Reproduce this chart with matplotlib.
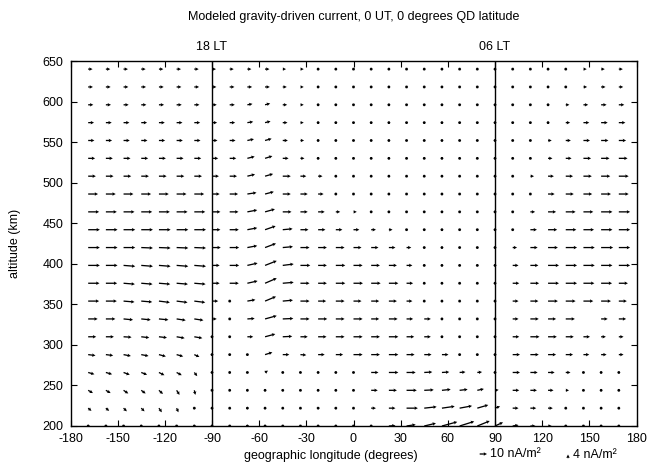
import numpy as np
import matplotlib
matplotlib.use('Agg')
import matplotlib.pyplot as plt

plt.rcParams['font.family'] = ['Liberation Sans', 'DejaVu Sans']
plt.rcParams['axes.unicode_minus'] = False

N = np.nan
# grid: geographic longitude (deg) and altitude (km)
longitudes = [-168.75, -157.5, -146.25, -135.0, -123.75, -112.5, -101.25, -90.0,
              -78.75, -67.5, -56.25, -45.0, -33.75, -22.5, -11.25, 0.0,
              11.25, 22.5, 33.75, 45.0, 56.25, 67.5, 78.75, 90.0,
              101.25, 112.5, 123.75, 135.0, 146.25, 157.5, 168.75]
altitudes = [200, 222, 244, 266, 288, 310, 332, 354, 376, 398, 420,
             442, 464, 486, 508, 530, 552, 574, 596, 618, 640]

# eastward current (nA/m^2), rows bottom (200 km) to top (640 km)
east_current = [
    [2, 1, 2, 0.5, 1.5, 0.5, 0.5, 0.5, 2, 0, 0.5, 1, 0.5, 0.5, 1, 1, 1.5, 9, 12.5, 16, 21, 20, 17, 11, 8, 7, 5, 3, 1.5, 1.5, 1.5],
    [4.5, 4.5, 4.5, 4.5, 4, 2.5, 0.5, 0.5, 0.5, 0, 0.5, 0.5, 0.5, 0.5, 2, 1, 6.5, 9, 15.5, 17, 17.5, 17, 15, 7, 8, 8, 6.5, 3.5, 1.5, 1.5, 1.5],
    [6.5, 6.5, 6.5, 6, 5.5, 4, 1.5, 0.3, 0.5, 0, 0.5, 2, 2, 0.5, 0.5, 3, 9, 11, 14, 13, 12, 11, 9, 5, 9, 9, 7.5, 4.5, 1.5, 1, 1],
    [8.5, 8.5, 8.5, 8, 7.5, 7, 4, 1, 0, 1, 4, 1, 1, 1, 1, 3, 10, 13, 12.5, 11, 10, 8, 6.5, 4, 10, 10, 9, 6.5, 3.5, 1.5, 1.5],
    [10, 10, 10, 10, 9.5, 9, 7, 1, 1, 1, 10, 9, 8, 9, 10, 12.5, 12, 13, 11, 10, 9, 2, 2, 3, 10, 11.5, 11, 10, 8, 7.5, 6.5],
    [11, 11, 11, 11, 11, 11, 11, 3, 2, 8, 14, 13, 10, 11.5, 12, 12.5, 12, 13, 10.5, 9, 2, 2, 2, 3, 9, 12.5, 12, 11, 9, 6.5, 6.5],
    [13, 13, 13, 13, 13, 12.5, 12.5, 6.5, 1, 10, 16, 14.5, 12.5, 12.5, 12, 12.5, 11, 12, 9, 9, 3, 2, 2, 4, 8, 11.5, 11, 12.5, N, 9, 10],
    [15, 15, 15, 15, 15, 15, 15, 8.5, 1, 11, 15, 14, 12.5, 11, 12, 11, 11, 11, 8, 2, 1, 1, 1, 4, 8, 11, 13.5, 13.5, 13.5, 13.5, 11],
    [15.5, 15.5, 15.5, 15.5, 15.5, 15.5, 15.5, 10.5, 12.5, 14, 16, 15, 12.5, 12, 13, 13, 13, 13, 9, 1, 1, 1, 1, 4, 9, 12, 15, 15.5, 15, 15, 12.5],
    [16, 16, 16, 16, 16, 16, 16, 10.5, 13, 14, 16, 15, 13.5, 12, 13, 12.5, 12, 11, 8, 1, 1, 1, 1, 3, 8, 11, 15, 15.5, 15.5, 15.5, 15.5],
    [16, 16, 16, 16, 16, 16, 16, 12, 13, 13.5, 15, 14, 12.5, 12, 12, 11, 10, 9, 6.5, 1, 1, 1, 1, 2, 6, 10, 13.5, 15.5, 15.5, 16.5, 15.5],
    [16, 16, 16, 16, 16, 16, 16, 11.5, 12.5, 13.5, 14.5, 13.5, 11, 10, 9, 8, 6.5, 5, 4, 1, 1, 1, 1, 1.5, 4, 9, 12.5, 14.5, 14.5, 15.5, 15.5],
    [15, 15, 15, 15, 15, 15, 15, 11.5, 12, 13.5, 13.5, 12, 10, 9, 6, 4.5, 3, 2, 1.5, 1, 1, 1, 1, 1.5, 2, 6.5, 11, 13.5, 13.5, 15.5, 15.5],
    [13.5, 13.5, 13.5, 13.5, 13.5, 13.5, 13.5, 10.5, 11.5, 12.5, 12, 11, 10, 7.5, 3.5, 2, 2, 1.5, 1.5, 1, 1, 1, 1, 1.5, 1.5, 3.5, 9, 11, 12, 13.5, 13.5],
    [10.5, 10.5, 10.5, 10.5, 10.5, 10.5, 10.5, 9.5, 10, 10.5, 11, 11, 8, 6, 3, 2, 1.5, 1, 1, 1, 1, 1, 1, 1.5, 1, 5, 8, 10, 11.5, 12.5, 13.5],
    [9.5, 9.5, 9.5, 9.5, 9.5, 9.5, 9.5, 8.5, 9, 10, 10, 8, 5.5, 3, 2, 1, 1, 1, 1, 1, 1, 1, 1, 1, 1, 3, 6, 8, 10.5, 11.5, 12],
    [8.5, 8.5, 8.5, 8.5, 8.5, 8.5, 8.5, 7.5, 8, 9, 9, 7, 5, 2.5, 1, 1, 1, 1, 1, 1, 1, 1, 1, 1, 1, 2.5, 5, 7, 9, 10, 10],
    [8, 8, 8, 8, 8, 8, 8, 7, 7.5, 8, 7.5, 6.5, 4.5, 2.5, 1, 1, 1, 1, 1, 1, 1, 1, 1, 1, 1, 2, 4, 6, 8, 9, 9],
    [7, 7, 7, 7, 7, 7, 7, 6.5, 7, 7, 7, 6, 4.5, 2.5, 1, 1, 1, 1, 1, 1, 1, 1, 1, 1, 1, 1.5, 3, 5, 6.5, 7.5, 7.5],
    [6.5, 6.5, 6.5, 6.5, 6.5, 6.5, 6.5, 6, 6.5, 6.5, 6.5, 5.5, 4.5, 2.5, 1, 1, 1, 1, 1, 1, 1, 1, 1, 1, 1, 1, 2.5, 4, 5, 6, 6],
    [6, 6, 6, 6, 6, 6, 6, 5.5, 5.5, 5.5, 6, 4.5, 4.5, 2, 1, 1, 1, 1, 1, 1, 1, 1, 1, 1, 1, 1, 1.5, 4, 4.5, 5, 5.5],
]

# upward current (nA/m^2), rows bottom to top
up_current = [
    [-1.5, -1, -2, -0.5, -3, -0.5, -0.5, 0, 0, 1.5, 0, 1.5, 0, 0, -1.5, 0, 0, 0.5, 1.5, 3, 4.5, 5, 5.5, 4, 1, 0, 0, 0, 0, 0, 0],
    [-3, -3, -3.5, -3.5, -4.5, -4.5, -1, 0, 0, 1.5, 0, 0, 0, -2, -2, 0, 0, 0, 0, 1.5, 2, 2.5, 3.5, 2, 0, 0, 0, 0, 0, 0, 0],
    [-3, -3, -3.5, -3.5, -4, -5, -5, -3, -3, -2, 0, -2, -2.5, 0, 0, 0, 0, 0, 0, 0.5, 1, 1, 1.5, 0.5, 0, 0, 0, 0, 0, 0, 0],
    [-2, -2, -2.5, -2.5, -3, -3, -4, 0, 1.5, 0, 2, 0, -1, 0, 0, 0, 0, 0, 0, 0.5, 0.5, 0.5, 0.5, 0, 0, 0, 0, 0, 0, 0, 0],
    [-1, -1, -1.5, -1.5, -2, -2, -2.5, 0, 0, 0, 2.5, 0, -0.5, 0, 0, 0, 0, 0, 0, 0, 0, 0, 0, 0, 0, 0, 0, 0, 0, 0, 0],
    [0, 0, -0.5, -1, -1, -1.5, -1.5, 0, 0, 0, 3, 0.5, 0, 0, 0, 0, 0, 0, 0, 0, 0, 0, 0, 0, 0, 0, 0, 0, 0, 0, 0],
    [0, 0, -1, -1, -1, -1.5, -1.5, 0, 0, 0.5, 3.5, 0.5, 0, 0, 0, 0, 0, 0, 0, 0, 0, 0, 0, 0, 0, 0, 0, 0, N, 0, 0],
    [0, 0, -1, -1, -1.5, -1.5, -1.5, 0, 0, 1.5, 5, 1, 0, 0, 0, 0, 0, 0, 0, 0, 0, 0, 0, 0, 0, 0, 0, 0, 0, 0, 0],
    [0, 0, -1, -1, -1, -1, -1, 0, 0, 2.5, 5.5, 1, 0, 0, 0, 0, 0, 0, 0, 0, 0, 0, 0, 0, 0, 0, 0, 0, 0, 0, 0],
    [0, 0, -1, -1, -1, -1, -1, 0, 0, 2.5, 5, 1.5, 0, 0, 0, 0, 0, 0, 0, 0, 0, 0, 0, 0, 0, 0, 0, 0, 0, 0, 0],
    [0, 0, 0, -0.5, -0.5, -0.5, -0.5, 0, 0, 2, 4.5, 1, 0, 0, 0, 0, 0, 0, 0, 0, 0, 0, 0, 0, 0, 0, 0, 0, 0, 0, 0],
    [0, 0, 0, 0, 0, 0, 0, 0, 0, 2, 4, 1, 0, 0, 0, 0, 0, 0, 0, 0, 0, 0, 0, 0, 0, 0, 0, 0, 0, 0, 0],
    [0, 0, 0, 0, 0, 0, 0, 0, 0, 2, 3, 0, 0, 0, 0, 0, 0, 0, 0, 0, 0, 0, 0, 0, 0, 0, 0, 0, 0, 0, 0],
    [0, 0, 0, 0, 0, 0, 0, 0, 0, 1.5, 2.5, 0, 0, 0, 0, 0, 0, 0, 0, 0, 0, 0, 0, 0, 0, 0, 0, 0, 0, 0, 0],
    [0, 0, 0, 0, 0, 0, 0, 0, 0, 2, 2.5, 0, 0, 0, 0, 0, 0, 0, 0, 0, 0, 0, 0, 0, 0, 0, 0, 0, 0, 0, 0],
    [0, 0, 0, 0, 0, 0, 0, 0, 0, 2, 2.5, 0, 0, 0, 0, 0, 0, 0, 0, 0, 0, 0, 0, 0, 0, 0, 0, 0, 0, 0, 0],
    [0, 0, 0, 0, 0, 0, 0, 0, 0, 1.5, 2, 0, 0, 0, 0, 0, 0, 0, 0, 0, 0, 0, 0, 0, 0, 0, 0, 0, 0, 0, 0],
    [0, 0, 0, 0, 0, 0, 0, 0, 0, 1, 1.5, 0, 0, 0, 0, 0, 0, 0, 0, 0, 0, 0, 0, 0, 0, 0, 0, 0, 0, 0, 0],
    [0, 0, 0, 0, 0, 0, 0, 0, 0, 1, 1.5, 0, 0, 0, 0, 0, 0, 0, 0, 0, 0, 0, 0, 0, 0, 0, 0, 0, 0, 0, 0],
    [0, 0, 0, 0, 0, 0, 0, 0, 0, 0, 0, 0, 0, 0, 0, 0, 0, 0, 0, 0, 0, 0, 0, 0, 0, 0, 0, 0, 0, 0, 0],
    [0, 0, 0, 0, 0, 0, 0, 0, 0, 0, 0, 0, 0, 0, 0, 0, 0, 0, 0, 0, 0, 0, 0, 0, 0, 0, 0, 0, 0, 0, 0],
]

lt_lines = [-90, 90]
lt_labels = ['18 LT', '06 LT']
x_ticks = [-180, -150, -120, -90, -60, -30, 0, 30, 60, 90, 120, 150, 180]
y_ticks = [200, 250, 300, 350, 400, 450, 500, 550, 600, 650]

# display scaling of the vectors (style): deg per nA/m^2 east, km per nA/m^2 up
DEG_PER_NA = 0.464
KM_PER_NA = 1.13

fig = plt.figure(figsize=(6.52, 4.65), dpi=100)
ax = fig.add_axes([70.5 / 652, 1 - 426 / 465, 566 / 652, 365 / 465])

X, Y = np.meshgrid(longitudes, altitudes)
U = np.array(east_current, dtype=float) * DEG_PER_NA
V = np.array(up_current, dtype=float) * KM_PER_NA

qkw = dict(angles='xy', scale_units='xy', scale=1, units='dots', width=1.3,
           headwidth=2.7, headlength=2.6, headaxislength=2.3, minlength=2.4,
           minshaft=1, color='black')
Q = ax.quiver(X, Y, U, V, **qkw)

for lx, lab in zip(lt_lines, lt_labels):
    ax.axvline(lx, color='black', lw=1.0)
    ax.text(lx, 1 + 14 / 365, lab, transform=ax.get_xaxis_transform(),
            ha='center', va='center', fontsize=9)

ax.set_xlim(-180, 180)
ax.set_ylim(200, 650)
ax.set_xticks(x_ticks)
ax.set_yticks(y_ticks)
ax.tick_params(direction='in', top=True, right=True, length=4, width=0.8,
               labelsize=9, pad=5)
for s in ax.spines.values():
    s.set_linewidth(1.0)

fig.text(353.5 / 652, 1 - 17 / 465,
         'Modeled gravity-driven current, 0 UT, 0 degrees QD latitude',
         ha='center', va='center', fontsize=9)
fig.text(331 / 652, 1 - 456 / 465, 'geographic longitude (degrees)',
         ha='center', va='center', fontsize=9)
fig.text(15 / 652, 1 - 243 / 465, 'altitude (km)', rotation=90,
         ha='center', va='center', fontsize=9)

fp = {'family': 'Liberation Sans', 'size': 9}
ax.quiverkey(Q, 487 / 652, 1 - 454 / 465, 10 * DEG_PER_NA, '10 nA/m²',
             angle=0, coordinates='figure', labelpos='E', labelsep=0.03,
             fontproperties=fp)
ax.quiverkey(Q, 568 / 652, 1 - 454.5 / 465, 4 * KM_PER_NA, '4 nA/m²',
             angle=90, coordinates='figure', labelpos='E', labelsep=0.05,
             fontproperties=fp)

fig.savefig('out.png', dpi=100)
